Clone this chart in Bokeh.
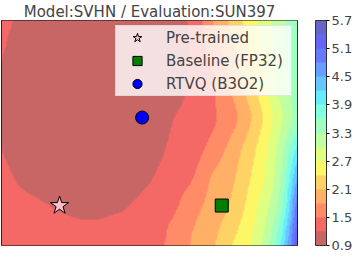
import numpy as np
from bokeh.plotting import figure
from bokeh.models import (LinearColorMapper, ColorBar, FixedTicker, PrintfTickFormatter,
                          Legend, LegendItem, ColumnDataSource)
from bokeh.embed import file_html
from bokeh.resources import INLINE

title_text = "Model:SVHN / Evaluation:SUN397"

# loss-landscape grid (rows top -> bottom)
grid_x = [-0.358, -0.182, 0.0, 0.182, 0.364, 0.545, 0.697, 0.818, 0.939, 1.061, 1.182, 1.273, 1.364, 1.467]
grid_y = [1.145, 0.939, 0.727, 0.533, 0.333, 0.152, 0.0, -0.152, -0.291]
row0 = [1.25, 1.14, 1.06, 1.02, 1.02, 1.06, 1.10, 1.25, 1.80, 2.20, 2.60, 2.90, 3.20, 3.55]
row1 = [1.21, 1.10, 1.03, 1.00, 1.00, 1.04, 1.10, 1.24, 1.62, 2.00, 2.45, 2.82, 3.18, 3.55]
row2 = [1.17, 1.07, 1.00, 0.97, 0.98, 1.02, 1.10, 1.25, 1.45, 1.85, 2.30, 2.70, 3.10, 3.50]
row3 = [1.15, 1.06, 0.99, 0.96, 0.98, 1.05, 1.19, 1.30, 1.45, 1.70, 2.10, 2.50, 2.95, 3.45]
row4 = [1.20, 1.07, 1.00, 0.97, 1.00, 1.10, 1.25, 1.38, 1.60, 1.92, 2.30, 2.65, 3.15, 4.00]
row5 = [1.28, 1.12, 1.03, 1.00, 1.05, 1.18, 1.35, 1.50, 1.83, 2.05, 2.42, 2.75, 3.30, 4.55]
row6 = [1.38, 1.27, 1.17, 1.12, 1.16, 1.30, 1.44, 1.68, 1.90, 2.14, 2.54, 2.90, 3.45, 4.95]
row7 = [1.45, 1.35, 1.28, 1.25, 1.29, 1.40, 1.54, 1.79, 2.00, 2.30, 2.65, 3.06, 3.75, 5.25]
row8 = [1.47, 1.42, 1.36, 1.33, 1.37, 1.45, 1.55, 1.86, 2.08, 2.44, 2.74, 3.20, 4.00, 5.55]
loss_rows = [row0, row1, row2, row3, row4, row5, row6, row7, row8]

levels = [0.9, 1.2, 1.5, 1.8, 2.1, 2.4, 2.7, 3.0, 3.3, 3.6, 3.9, 4.2, 4.5, 4.8, 5.1, 5.4, 5.7]
tick_values = [0.9, 1.5, 2.1, 2.7, 3.3, 3.9, 4.5, 5.1, 5.7]

point_labels = ["Pre-trained", "Baseline (FP32)", "RTVQ (B3O2)"]
point_x = [0.0, 1.0, 0.509]
point_y = [0.0, 0.0, 0.533]


def pchip(xk, yk, xq):
    xk = np.asarray(xk, float)
    yk = np.asarray(yk, float)
    h = np.diff(xk)
    d = np.diff(yk) / h
    n = len(xk)
    m = np.zeros(n)
    for k in range(1, n - 1):
        if d[k - 1] * d[k] > 0:
            w1 = 2 * h[k] + h[k - 1]
            w2 = h[k] + 2 * h[k - 1]
            m[k] = (w1 + w2) / (w1 / d[k - 1] + w2 / d[k])
    m[0] = d[0]
    m[-1] = d[-1]
    idx = np.clip(np.searchsorted(xk, xq) - 1, 0, n - 2)
    t = (xq - xk[idx]) / h[idx]
    h00 = 2 * t**3 - 3 * t**2 + 1
    h10 = t**3 - 2 * t**2 + t
    h01 = -2 * t**3 + 3 * t**2
    h11 = t**3 - t**2
    return h00 * yk[idx] + h10 * h[idx] * m[idx] + h01 * yk[idx + 1] + h11 * h[idx] * m[idx + 1]


# smooth resampling of the read grid (y ascending)
gy = np.array(grid_y[::-1])
G = np.array(loss_rows[::-1])
x0, x1 = grid_x[0], grid_x[-1]
y0, y1 = gy[0], gy[-1]
nx, ny = 460, 360
xq = np.linspace(x0, x1, nx)
yq = np.linspace(y0, y1, ny)
Zc = np.stack([pchip(gy, G[:, j], yq) for j in range(G.shape[1])], axis=1)
Z = np.stack([pchip(grid_x, Zc[i, :], xq) for i in range(ny)], axis=0)
Z = np.clip(Z, levels[0] + 1e-6, levels[-1] - 1e-6)


# jet_r colormap blended with white at alpha 0.6 (matplotlib contourf look)
def jet(v):
    r = np.interp(v, [0, 0.35, 0.66, 0.89, 1], [0, 0, 1, 1, 0.5])
    g = np.interp(v, [0, 0.125, 0.375, 0.64, 0.91, 1], [0, 0, 1, 1, 0, 0])
    b = np.interp(v, [0, 0.11, 0.34, 0.65, 1], [0.5, 1, 1, 0, 0])
    return r, g, b


nb = len(levels) - 1
palette = []
for i in range(nb):
    v = 1 - (i + 0.5) / nb
    rgb = jet(v)
    c = [int(round(255 * (0.4 + 0.6 * ch))) for ch in rgb]
    palette.append("#%02x%02x%02x" % tuple(c))

mapper = LinearColorMapper(palette=palette, low=levels[0], high=levels[-1])

p = figure(width=355, height=253, x_range=(-0.358, 1.467), y_range=(-0.242, 1.121),
           output_backend="svg", toolbar_location=None, title=title_text,
           x_axis_location=None, y_axis_location=None,
           min_border_left=1, min_border_right=53, min_border_top=0, min_border_bottom=8)
p.grid.visible = False
p.outline_line_color = "black"
p.outline_line_width = 1
p.title.text_font = "DejaVu Sans"
p.title.text_font_size = "15px"
p.title.text_font_style = "normal"
p.title.align = "center"
p.title.standoff = 0

p.image(image=[Z], x=x0, y=y0, dw=x1 - x0, dh=y1 - y0, color_mapper=mapper)

styles = [dict(marker="star", size=19, fill_color="pink"),
          dict(marker="square", size=13, fill_color="green"),
          dict(marker="circle", size=13, fill_color="blue")]
items = []
for i, lab in enumerate(point_labels):
    src = ColumnDataSource(dict(x=[point_x[i]], y=[point_y[i]]))
    r = p.scatter("x", "y", source=src, line_color="black", line_width=1, **styles[i])
    items.append(LegendItem(label=lab, renderers=[r]))

legend = Legend(items=items, location="top_right")
legend.label_text_font = "DejaVu Sans"
legend.label_text_font_size = "15px"
legend.margin = 5
legend.padding = 0
legend.spacing = 0
legend.glyph_height = 23
legend.label_height = 23
legend.glyph_width = 42
legend.label_width = 125
legend.label_standoff = 8
legend.background_fill_color = "white"
legend.background_fill_alpha = 0.8
legend.border_line_color = "#cccccc"
p.add_layout(legend)

cb = ColorBar(color_mapper=mapper, ticker=FixedTicker(ticks=tick_values),
              formatter=PrintfTickFormatter(format="%.1f"), width=11,
              location=(18, 0), margin=0, padding=0, major_tick_in=0, major_tick_out=3,
              major_tick_line_color="black", label_standoff=2,
              major_label_text_font="DejaVu Sans", major_label_text_font_size="13px",
              bar_line_color="#333333", bar_line_width=1)
p.add_layout(cb, "right")

open("out.html", "w").write(file_html(p, INLINE))
